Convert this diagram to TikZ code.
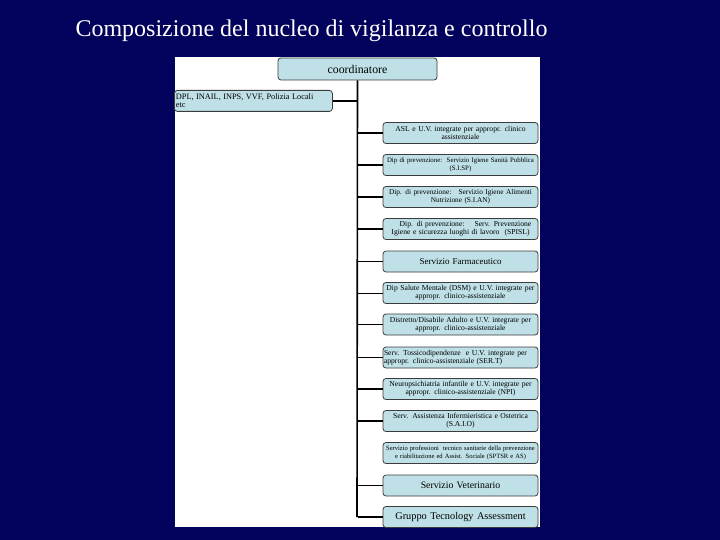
\documentclass[tikz,border=0pt]{standalone}
\usepackage{fontspec}
\setmainfont{Liberation Serif}
\definecolor{bgnavy}{RGB}{2,2,92}
\definecolor{boxblue}{RGB}{190,224,230}
\definecolor{boxline}{RGB}{60,60,60}
\begin{document}
\begin{tikzpicture}[x=1pt,y=-1pt,
  unit/.style={draw=boxline,line width=0.8pt,fill=boxblue,rounded corners=3pt,
    minimum width=155pt,minimum height=21pt,inner sep=0pt,align=center,
    font=\fontsize{7.6}{8}\selectfont,text width=155pt},
  bigunit/.style={unit,font=\fontsize{9}{10}\selectfont},
  link/.style={line width=1.6pt,black},
  thinlink/.style={line width=0.8pt,black}]
\useasboundingbox (0,0) rectangle (720,540);
\fill[bgnavy] (0,0) rectangle (720,540);
\fill[white] (175,57) rectangle (540,527);
\node[white,font=\fontsize{24}{27}\selectfont] (title) at (311.5,31) {Composizione del nucleo di vigilanza e controllo};
\node[unit,minimum width=159pt,minimum height=22pt,text width=159pt,font=\fontsize{11.8}{12}\selectfont] (coord) at (357.5,69) {coordinatore};
\node[unit,minimum width=157pt,text width=155pt,align=left,anchor=north west,minimum height=21pt,inner sep=1.5pt] (dpl) at (174,90) {\fontsize{8.3}{7}\selectfont DPL, INAIL, INPS, VVF, Polizia Locali\\etc};
\coordinate (trunkend) at (357,517);
\draw[link] (coord.south) -- (trunkend);
\draw[link] (dpl.east) -- (dpl.east -| coord.south);
\node[unit] (b1) at (460.5,133) {ASL e U.V. integrate per appropr. clinico\\assistenziale};
\node[unit,font=\fontsize{6.8}{8}\selectfont] (b2) at (460.5,165) {\mbox{Dip di prevenzione:\ \ Servizio Igiene Sanità Pubblica}\\(S.I.SP)};
\node[unit,font=\fontsize{7.3}{8}\selectfont] (b3) at (460.5,197) {\mbox{Dip. di prevenzione:\ \ \ Servizio Igiene Alimenti}\\Nutrizione (S.I.AN)};
\node[unit] (b4) at (460.5,229) {\hspace*{10pt}Dip. di prevenzione:\ \ \ \ Serv. Prevenzione\\Igiene e sicurezza luoghi di lavoro\ \ (SPISL)};
\node[bigunit] (b5) at (460.5,261.5) {Servizio Farmaceutico};
\node[unit] (b6) at (460.5,293) {Dip Salute Mentale (DSM) e U.V. integrate per\\appropr. clinico-assistenziale};
\node[unit] (b7) at (460.5,324.5) {Distretto/Disabile Adulto e U.V. integrate per\\appropr. clinico-assistenziale};
\node[unit,align=left,text width=153pt] (b8) at (460.5,357.5) {Serv. Tossicodipendenze\ \ e U.V. integrate per\\appropr. clinico-assistenziale (SER.T)};
\node[unit] (b9) at (460.5,389) {Neuropsichiatria infantile e U.V. integrate per\\appropr. clinico-assistenziale (NPI)};
\node[unit] (b10) at (460.5,421) {Serv. Assistenza Infermieristica e Ostetrica\\(S.A.I.O)};
\node[unit,font=\fontsize{6.5}{7.5}\selectfont] (b11) at (460.5,453) {Servizio professioni\ \ tecnico sanitarie della prevenzione\\e riabilitazione ed Assist. Sociale (SPTSR e AS)};
\node[bigunit,font=\fontsize{9.8}{10}\selectfont] (b12) at (460.5,485.5) {Servizio Veterinario};
\node[bigunit,font=\fontsize{10.3}{11}\selectfont] (b13) at (460.5,517) {Gruppo Tecnology Assessment};
\foreach \b in {b1,b2,b3,b4,b5,b7,b8,b9,b10,b12,b13}
  \draw[link] (\b.west -| coord.south) -- (\b.west);
\draw[thinlink] (b6.west -| coord.south) -- (b6.west);
\end{tikzpicture}
\end{document}
